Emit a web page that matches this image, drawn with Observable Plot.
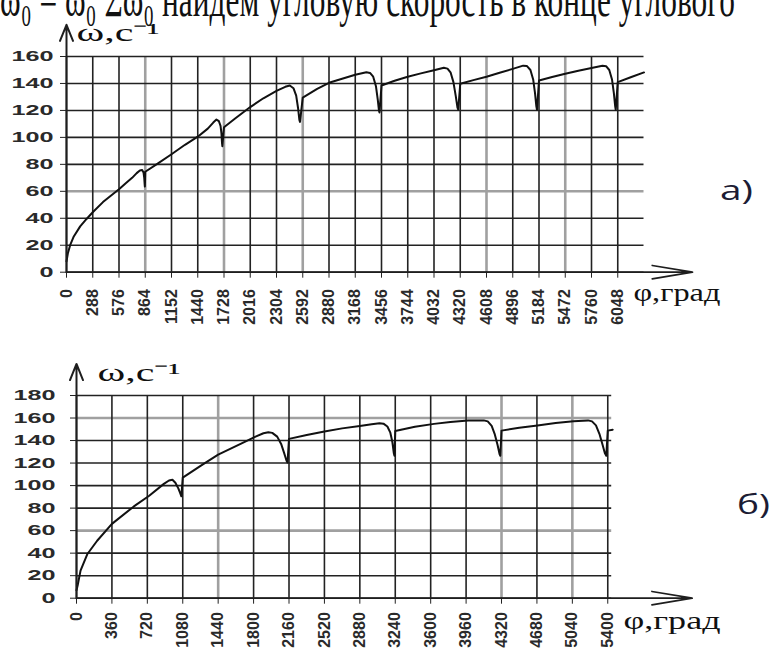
<!DOCTYPE html>
<html><head><meta charset="utf-8">
<script src="https://cdn.jsdelivr.net/npm/d3@7"></script>
<script src="https://cdn.jsdelivr.net/npm/@observablehq/plot@0.6"></script>
<style>
html,body{margin:0;padding:0;background:#fff;}
#wrap{position:relative;width:771px;height:652px;overflow:hidden;background:#fff;}
#ca,#cb,#overlay{position:absolute;left:0;}
#ca{top:0;} #cb{top:330px;} #overlay{top:0;pointer-events:none;}
</style></head>
<body><div id="wrap"><div id="ca"></div><div id="cb"></div>
<svg id="overlay" width="771" height="652"></svg></div>
<script>
// ---------- data ----------
const topText = "ω₀ = ω₀ Σω₀ найдем угловую скорость в конце углового";
const yLabel = "ω,с⁻¹";
const xLabel = "φ,град";
const panelLabels = ["а)", "б)"];

// chart а)
const xTicksA = [0,288,576,864,1152,1440,1728,2016,2304,2592,2880,3168,3456,3744,4032,4320,4608,4896,5184,5472,5760,6048];
const yTicksA = [0,20,40,60,80,100,120,140,160];
const lightXA = [864,1728,2592,4608,5472];
const lightYA = [60];
const phiA = [0,15,40,80,150,220,288,400,500,576,650,720,770,805,830,845,853,858,860,864,
  1000,1152,1300,1440,1550,1610,1645,1672,1690,1700,1706,1710,1728,
  1850,2016,2160,2304,2400,2450,2490,2520,2540,2555,2562,2592,
  2750,2880,3024,3168,3290,3330,3365,3395,3415,3428,3434,3456,
  3600,3744,3888,4032,4140,4180,4215,4245,4270,4290,4298,4320,
  4464,4608,4752,4896,5010,5050,5090,5120,5140,5155,5162,5184,
  5328,5472,5616,5760,5880,5920,5955,5985,6005,6020,6026,6048,
  6190,6336];
const omegaA = [8,14,20,26.5,34,39.5,44.5,52,57.5,61.5,66,70,73.5,75.5,75.8,74,70,65,63.5,74.5,
  80.5,87.5,94.5,100.5,106.5,111,113.2,112,108.5,103,96,93.5,107.5,
  114,122.5,129,134.5,137.5,138.5,136.5,131,122,113,111.5,129.5,
  136,140.5,143.5,146.5,148.3,147.8,145,138,128,120,118.5,138.5,
  142,145,147.5,149.8,151.6,151,148,141,131,122,120.5,139.8,
  142.5,145,148,150.8,153.2,153,150,143,133,123,120.5,142.2,
  144.8,147.2,149.5,151.5,153.2,152.8,150,143,133,123,120.5,141,
  144.6,148.2];

// chart б)
const xTicksB = [0,360,720,1080,1440,1800,2160,2520,2880,3240,3600,3960,4320,4680,5040,5400];
const yTicksB = [0,20,40,60,80,100,120,140,160,180];
const lightXB = [1440,4320,5040];
const lightYB = [60,160];
const phiB = [0,13,41,109,210,360,583,739,888,940,975,1005,1035,1055,1066,1080,
  1261,1440,1668,1820,1900,1950,1990,2040,2080,2110,2135,2145,2160,
  2340,2520,2700,2880,3000,3080,3120,3160,3190,3210,3225,3232,3240,
  3440,3634,3800,3980,4140,4180,4220,4250,4280,4300,4308,4320,
  4500,4686,4870,5051,5200,5240,5280,5315,5345,5370,5385,5400,5450];
const omegaB = [7,12,24.5,39,51,66,81.5,91,101.5,104.5,105.2,102.5,97.5,93,90.5,107,
  117.5,127.5,137,143.5,146.5,147.4,146.8,143.5,137,129,122,120.5,141.5,
  145,148,150.8,153,154.5,155.4,155,152.5,147,139,129,126.5,148.5,
  152.3,154.8,156.5,157.7,157.9,157,153,146,136,128,126.5,148.8,
  151.3,153.4,155.5,157.2,157.9,157,153.5,146,137,129,126.5,148.8,149.6];

// ---------- drawing ----------
function chart(c) {
  const data = c.phi.map((p, i) => ({phi: p, omega: c.omega[i]}));
  const yTop = c.yTicks[c.yTicks.length - 1];
  const darkX = c.xTicks.filter(v => !c.lightX.includes(v));
  const darkY = c.yTicks.filter(v => !c.lightY.includes(v));
  const svg = Plot.plot({
    width: 771, height: c.height,
    marginTop: c.mt, marginBottom: c.mb, marginLeft: c.ml, marginRight: c.mr,
    style: {background: "transparent", overflow: "visible", color: "#222"},
    x: {domain: [0, c.xMax]},
    y: {domain: [0, yTop]},
    marks: [
      Plot.ruleY(c.lightY, {x1: 0, x2: c.xMax, stroke: "#a0a0a0", strokeWidth: 2.6}),
      Plot.ruleX(c.lightX, {y1: 0, y2: yTop, stroke: "#a0a0a0", strokeWidth: 2.6}),
      Plot.ruleY(darkY, {x1: 0, x2: c.xMax, stroke: "#222", strokeWidth: 1.6}),
      Plot.ruleX(darkX, {y1: 0, y2: yTop, stroke: "#222", strokeWidth: 1.6}),
      Plot.axisX(c.xTicks, {tickSize: 6, tickRotate: -90, tickPadding: c.xPad, label: null,
        tickFormat: d => String(d), fontSize: 16, fontWeight: "bold", fill: "#2a2a2a",
        fontFamily: "Liberation Sans, Arial, sans-serif"}),
      Plot.axisY(c.yTicks, {tickSize: 6, tickPadding: c.yPad, label: null,
        tickFormat: d => String(d), fontSize: 15, fontWeight: "bold", fill: "#2a2a2a",
        fontFamily: "Liberation Sans, Arial, sans-serif"}),
      Plot.line(data, {x: "phi", y: "omega", stroke: "#111", strokeWidth: 2}),
      Plot.arrow([c.arrow], {x1: 0, y1: 0, x2: 0, y2: d => d.yEnd, stroke: "#1e1e1e",
        strokeWidth: 2, headLength: 13, headAngle: 44}),
      Plot.arrow([c.arrow], {x1: 0, y1: 0, x2: d => d.xEnd, y2: 0, stroke: "#1e1e1e",
        strokeWidth: 1.7, headLength: 36, headAngle: 19}),
      Plot.text([yLabel], {x: 0, y: yTop, dx: c.ylDx, dy: c.ylDy, text: d => d, textAnchor: "start",
        lineAnchor: "bottom", fontSize: 25, fontFamily: "Liberation Serif, serif", fill: "#111"}),
      Plot.text([xLabel], {x: c.xlX, y: 0, dy: c.xlDy, text: d => d, textAnchor: "start",
        lineAnchor: "bottom", fontSize: 26, fontFamily: "Liberation Serif, serif", fill: "#111"})
    ]
  });
  const s = d3.select(svg);
  s.selectAll('g[aria-label="y-axis tick label"] text')
    .attr("textLength", function() { return this.textContent.length * 14; })
    .attr("lengthAdjust", "spacingAndGlyphs");
  s.selectAll("text").each(function() {
    if (this.textContent === yLabel) d3.select(this).attr("textLength", 83).attr("lengthAdjust", "spacingAndGlyphs");
    if (this.textContent === xLabel) d3.select(this).attr("textLength", c.xlW).attr("lengthAdjust", "spacingAndGlyphs");
  });
  return svg;
}

document.getElementById("ca").append(chart({
  phi: phiA, omega: omegaA, xTicks: xTicksA, yTicks: yTicksA, lightX: lightXA, lightY: lightYA,
  height: 330, mt: 56, mb: 58.3, ml: 66, mr: 127.5, xMax: 6336,
  xPad: 11, yPad: 7, arrow: {xEnd: 6868, yEnd: 183.5},
  ylDx: 10, ylDy: -16, xlX: 6220, xlDy: 28.5, xlW: 87
}));
document.getElementById("cb").append(chart({
  phi: phiB, omega: omegaB, xTicks: xTicksB, yTicks: yTicksB, lightX: lightXB, lightY: lightYB,
  height: 322, mt: 65, mb: 54.3, ml: 76, mr: 159.8, xMax: 5440,
  xPad: 8, yPad: 15, arrow: {xEnd: 6258, yEnd: 208},
  ylDx: 21, ylDy: -15, xlX: 5560, xlDy: 30.5, xlW: 97
}));

// overlay: cropped document text and panel letters
const ov = d3.select("#overlay");
ov.append("text").attr("x", 0).attr("y", 16).attr("font-family", "Liberation Serif, serif")
  .attr("font-size", 50).attr("fill", "#111").attr("textLength", 735).attr("lengthAdjust", "spacingAndGlyphs")
  .text(topText);
ov.append("text").attr("x", 720).attr("y", 200).attr("font-family", "Open Sans, Liberation Sans, sans-serif")
  .attr("font-size", 27).attr("fill", "#1c1c34").attr("textLength", 33).attr("lengthAdjust", "spacingAndGlyphs")
  .text(panelLabels[0]);
ov.append("text").attr("x", 737).attr("y", 514).attr("font-family", "Open Sans, Liberation Sans, sans-serif")
  .attr("font-size", 27).attr("fill", "#1c1c34").attr("textLength", 33).attr("lengthAdjust", "spacingAndGlyphs")
  .text(panelLabels[1]);
</script></body></html>
